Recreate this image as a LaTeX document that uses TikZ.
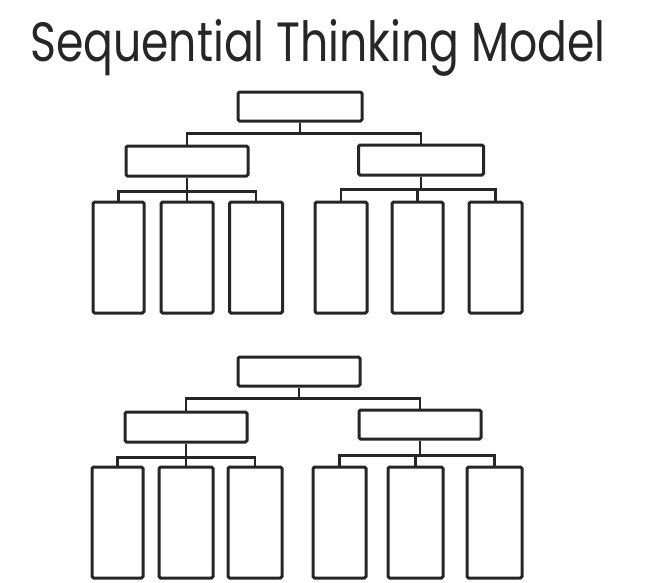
\documentclass[tikz,border=0pt]{standalone}
\usepackage{fontspec}
\newfontfamily\titlefont{Poppins}
\usepackage{graphicx}
\definecolor{ink}{HTML}{262626}
\begin{document}
\begin{tikzpicture}[x=1pt,y=-1pt,
  box/.style={draw=ink,line width=3pt,rounded corners=1.5pt,inner sep=0pt,fill=white},
  link/.style={draw=ink,line width=2.8pt}]
\useasboundingbox (0,0) rectangle (647,582);
\node[anchor=north west,inner sep=0pt,text=ink] (title) at (30,19)
  {\resizebox*{575pt}{57pt}{\titlefont Sequential Thinking Model}};

% ---- upper tree ----
\node[box,minimum width=124pt,minimum height=29pt] (ua) at (300,106.5) {};
\node[box,minimum width=122pt,minimum height=30pt] (ub) at (187,161) {};
\node[box,minimum width=125pt,minimum height=30pt] (uc) at (421,160) {};
\node[box,minimum width=51pt,minimum height=111pt] (u1) at (118.5,257.5) {};
\node[box,minimum width=52pt,minimum height=111pt] (u2) at (187,257.5) {};
\node[box,minimum width=53pt,minimum height=111pt] (u3) at (256,257.5) {};
\node[box,minimum width=52pt,minimum height=111pt] (u4) at (341,257.5) {};
\node[box,minimum width=51pt,minimum height=111pt] (u5) at (417.5,257.5) {};
\node[box,minimum width=53pt,minimum height=111pt] (u6) at (495.5,257.5) {};
\draw[link] (ua.south) -- ++(0,11) -| (ub.north);
\draw[link] (ua.south) -- ++(0,11) -| (uc.north);
\foreach \c in {u1,u2,u3} \draw[link] (ub.south) -- ++(0,14) -| (\c.north);
\foreach \c in {u4,u5,u6} \draw[link] (uc.south) -- ++(0,13) -| (\c.north);

% ---- lower tree ----
\node[box,minimum width=122pt,minimum height=29pt] (la) at (299,371.5) {};
\node[box,minimum width=122pt,minimum height=30pt] (lb) at (186,427) {};
\node[box,minimum width=122pt,minimum height=29pt] (lc) at (420,424.5) {};
\node[box,minimum width=51pt,minimum height=111pt] (l1) at (117.5,522.5) {};
\node[box,minimum width=54pt,minimum height=111pt] (l2) at (186,522.5) {};
\node[box,minimum width=54pt,minimum height=111pt] (l3) at (255,522.5) {};
\node[box,minimum width=53pt,minimum height=111pt] (l4) at (339.5,522.5) {};
\node[box,minimum width=55pt,minimum height=111pt] (l5) at (415.5,522.5) {};
\node[box,minimum width=55pt,minimum height=111pt] (l6) at (494.5,522.5) {};
\draw[link] (la.south) -- ++(0,11) -| (lb.north);
\draw[link] (la.south) -- ++(0,11) -| (lc.north);
\foreach \c in {l1,l2,l3} \draw[link] (lb.south) -- ++(0,14) -| (\c.north);
\foreach \c in {l4,l5,l6} \draw[link] (lc.south) -- ++(0,15) -| (\c.north);
\end{tikzpicture}
\end{document}
